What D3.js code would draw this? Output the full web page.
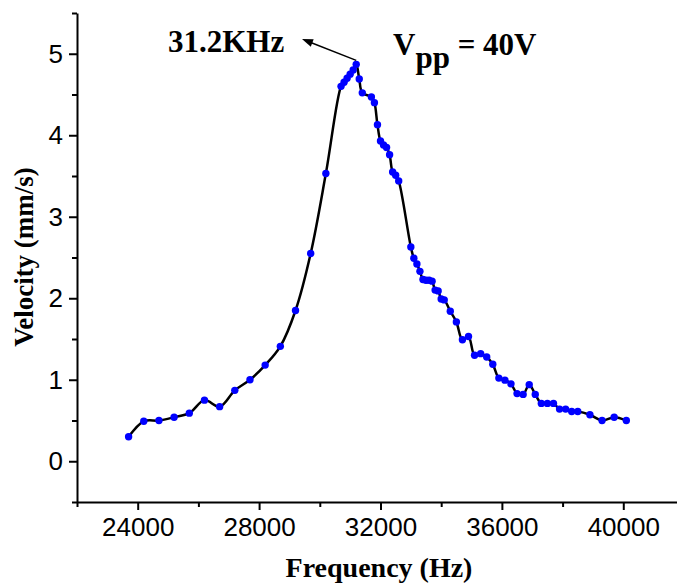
<!DOCTYPE html>
<html>
<head>
<meta charset="utf-8">
<script src="https://cdn.jsdelivr.net/npm/d3@7"></script>
<style>
  body { margin: 0; background: #fff; }
  svg { display: block; }
</style>
</head>
<body>
<div id="chart"></div>
<script>
// frequency sweep at Vpp = 40V
const freq = [
  23700, 24200, 24700, 25200, 25700, 26200, 26700, 27200, 27700, 28200,
  28700, 29200, 29700, 30200, 30700, 30800, 30900, 31000, 31100, 31200,
  31300, 31400, 31700, 31800, 31900, 32000, 32100, 32200, 32300, 32400,
  32500, 32600, 33000, 33100, 33200, 33300, 33400, 33500, 33600, 33700,
  33800, 33900, 34000, 34100, 34300, 34500, 34700, 34900, 35100, 35300,
  35500, 35700, 35900, 36100, 36300, 36500, 36700, 36900, 37100, 37300,
  37500, 37700, 37900, 38100, 38300, 38500, 38900, 39300, 39700, 40100
];
const velocity = [
  0.30, 0.49, 0.50, 0.54, 0.59, 0.75, 0.67, 0.87, 1.00, 1.18,
  1.41, 1.85, 2.55, 3.53, 4.60, 4.65, 4.70, 4.75, 4.80, 4.87,
  4.69, 4.52, 4.47, 4.40, 4.13, 3.93, 3.88, 3.85, 3.76, 3.55,
  3.51, 3.44, 2.63, 2.49, 2.42, 2.33, 2.23, 2.22, 2.22, 2.21,
  2.10, 2.09, 1.99, 1.98, 1.84, 1.71, 1.49, 1.53, 1.30, 1.32,
  1.28, 1.19, 1.02, 0.995, 0.95, 0.83, 0.82, 0.94, 0.82, 0.71,
  0.71, 0.71, 0.64, 0.64, 0.61, 0.61, 0.57, 0.50, 0.54, 0.50
];

const xMajor = [24000, 28000, 32000, 36000, 40000];
const xMinor = [22000, 26000, 30000, 34000, 38000];
const yMajor = [0, 1, 2, 3, 4, 5];
const yMinor = [-0.5, 0.5, 1.5, 2.5, 3.5, 4.5, 5.5];

const peakFreq = 31200, peakVel = 4.87;

const width = 677, height = 585;
const data = freq.map((f, i) => [f, velocity[i]]);

const x = d3.scaleLinear().domain([22000, 41770]).range([77, 677]);
const y = d3.scaleLinear().domain([-0.5, 5.5]).range([502, 13]);

const svg = d3.select("#chart").append("svg")
    .attr("width", width)
    .attr("height", height)
    .attr("viewBox", [0, 0, width, height])
    .style("background", "#fff");

// minor ticks first, no labels
svg.append("g")
    .attr("transform", "translate(0,502)")
    .call(d3.axisBottom(x).tickValues(xMinor).tickSize(5).tickSizeOuter(0).tickFormat(""))
    .call(g => g.select(".domain").remove());
svg.append("g")
    .attr("transform", "translate(77,0)")
    .call(d3.axisLeft(y).tickValues(yMinor).tickSize(5).tickSizeOuter(0).tickFormat(""))
    .call(g => g.select(".domain").remove());

svg.append("g")
    .attr("transform", "translate(0,502)")
    .call(d3.axisBottom(x).tickValues(xMajor).tickSize(8).tickPadding(8).tickSizeOuter(0).tickFormat(d3.format("d")));
svg.append("g")
    .attr("transform", "translate(77,0)")
    .call(d3.axisLeft(y).tickValues(yMajor).tickSize(8).tickPadding(6).tickSizeOuter(0).tickFormat(d3.format("d")));

svg.selectAll(".tick line").attr("stroke", "#000").attr("stroke-width", 2);
svg.selectAll(".domain").attr("stroke", "#000").attr("stroke-width", 2);
svg.selectAll(".tick text")
    .attr("font-family", "'Liberation Sans', Arial, sans-serif")
    .attr("font-size", 26)
    .attr("fill", "#000");

// axis titles
svg.append("text")
    .attr("x", 379)
    .attr("y", 577)
    .attr("text-anchor", "middle")
    .attr("font-family", "'Liberation Serif', 'Times New Roman', serif")
    .attr("font-weight", "bold")
    .attr("font-size", 28)
    .text("Frequency (Hz)");

svg.append("text")
    .attr("transform", "translate(33,257) rotate(-90)")
    .attr("text-anchor", "middle")
    .attr("font-family", "'Liberation Serif', 'Times New Roman', serif")
    .attr("font-weight", "bold")
    .attr("font-size", 27)
    .text("Velocity (mm/s)");

// curve + points
const line = d3.line()
    .x(d => x(d[0]))
    .y(d => y(d[1]))
    .curve(d3.curveCatmullRom.alpha(0.5));

svg.append("path")
    .datum(data)
    .attr("fill", "none")
    .attr("stroke", "#000")
    .attr("stroke-width", 2.5)
    .attr("d", line);

svg.append("g")
    .selectAll("circle")
    .data(data)
    .join("circle")
      .attr("cx", d => x(d[0]))
      .attr("cy", d => y(d[1]))
      .attr("r", 3.7)
      .attr("fill", "#0000ff");

// peak annotation
const ax0 = x(peakFreq), ay0 = y(peakVel) - 4;
const ax1 = 302, ay1 = 39;
const ang = Math.atan2(ay0 - ay1, ax0 - ax1);
svg.append("line")
    .attr("x1", ax0).attr("y1", ay0)
    .attr("x2", ax1 + 8 * Math.cos(ang)).attr("y2", ay1 + 8 * Math.sin(ang))
    .attr("stroke", "#000")
    .attr("stroke-width", 1.5);
const head = [
  [ax1, ay1],
  [ax1 + 11 * Math.cos(ang) - 4 * Math.sin(ang), ay1 + 11 * Math.sin(ang) + 4 * Math.cos(ang)],
  [ax1 + 11 * Math.cos(ang) + 4 * Math.sin(ang), ay1 + 11 * Math.sin(ang) - 4 * Math.cos(ang)]
];
svg.append("path")
    .attr("d", "M" + head.join("L") + "Z")
    .attr("fill", "#000");

svg.append("text")
    .attr("x", 168)
    .attr("y", 52)
    .attr("font-family", "'Liberation Serif', 'Times New Roman', serif")
    .attr("font-weight", "bold")
    .attr("font-size", 31)
    .text("31.2KHz");

const vpp = svg.append("text")
    .attr("x", 393)
    .attr("y", 55)
    .attr("font-family", "'Liberation Serif', 'Times New Roman', serif")
    .attr("font-weight", "bold")
    .attr("font-size", 31);
vpp.append("tspan").text("V");
vpp.append("tspan").attr("dy", 13).text("pp");
vpp.append("tspan").attr("dy", -13).text(" = 40V");
</script>
</body>
</html>
